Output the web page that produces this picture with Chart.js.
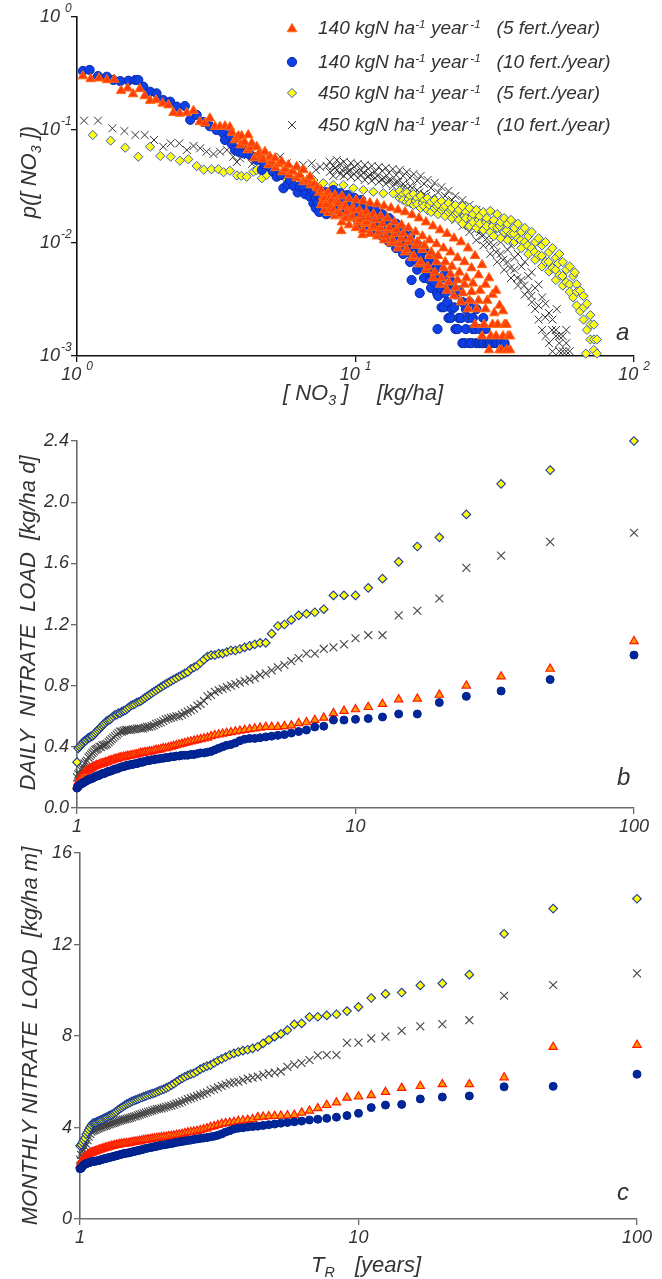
<!DOCTYPE html>
<html>
<head>
<meta charset="utf-8">
<title>Nitrate concentration pdf and nitrate load return periods</title>
<script src="https://cdn.jsdelivr.net/npm/chart.js@4.4.0/dist/chart.umd.min.js"></script>
<style>
  html, body { margin: 0; padding: 0; background: #fff; }
  #wrap { position: relative; width: 662px; height: 1279px; overflow: hidden;
          font-family: "Liberation Sans", Arial, sans-serif; font-style: italic; color: #333; }
  canvas { position: absolute; left: 0; }
  .t { position: absolute; white-space: nowrap; line-height: 20px; }
  .rot { transform: translate(-50%, -50%) rotate(-90deg); }
  .t sup { font-size: 62%; vertical-align: 0; position: relative; top: -0.55em; line-height: 0; }
  .t sub { font-size: 65%; vertical-align: 0; position: relative; top: 0.35em; line-height: 0; }
  .leg { font-size: 19px; left: 318px; }
  .ttl { font-size: 22px; }
  .lbl { font-size: 24px; }
</style>
</head>
<body>
<div id="wrap">
  <canvas id="chartA" width="662" height="420" style="top:0px"></canvas>
  <canvas id="chartB" width="662" height="420" style="top:420px"></canvas>
  <canvas id="chartC" width="662" height="439" style="top:840px"></canvas>

  <!-- legend of panel a -->
  <div class="t leg" style="top:18px">140 kgN ha<sup>-1</sup> year<sup>&thinsp;-1</sup>&nbsp;&nbsp;&nbsp;(5 fert./year)</div>
  <div class="t leg" style="top:52px">140 kgN ha<sup>-1</sup> year<sup>&thinsp;-1</sup>&nbsp;&nbsp;&nbsp;(10 fert./year)</div>
  <div class="t leg" style="top:83px">450 kgN ha<sup>-1</sup> year<sup>&thinsp;-1</sup>&nbsp;&nbsp;&nbsp;(5 fert./year)</div>
  <div class="t leg" style="top:115px">450 kgN ha<sup>-1</sup> year<sup>&thinsp;-1</sup>&nbsp;&nbsp;&nbsp;(10 fert./year)</div>

  <!-- axis titles -->
  <div class="t ttl rot" style="left:29px;top:172px">p([ NO<sub>3</sub> ])</div>
  <div class="t ttl" style="left:283px;top:383px">[ NO<sub>3</sub> ]</div>
  <div class="t ttl" style="left:377px;top:383px">[kg/ha]</div>
  <div class="t ttl rot" style="left:28px;top:623px">DAILY&nbsp; NITRATE&nbsp; LOAD&nbsp; [kg/ha d]</div>
  <div class="t ttl rot" style="left:30px;top:1036px">MONTHLY NITRATE&nbsp; LOAD&nbsp; [kg/ha m]</div>
  <div class="t ttl" style="left:311px;top:1255px">T<sub>R</sub></div>
  <div class="t ttl" style="left:355px;top:1255px">[years]</div>

  <!-- panel letters -->
  <div class="t lbl" style="left:616px;top:322px">a</div>
  <div class="t lbl" style="left:617px;top:767px">b</div>
  <div class="t lbl" style="left:617px;top:1182px">c</div>
</div>

<script>
// ---------- Panel a: probability of nitrate concentration, [NO3] (kg/ha) vs p ----------
const pdf140f5 = [
  [1.05,0.30],[1.12,0.283],[1.20,0.287],[1.28,0.277],[1.36,0.28],[1.44,0.223],[1.52,0.234],[1.59,0.208],
  [1.68,0.231],[1.75,0.20],[1.83,0.182],[1.92,0.184],[2.03,0.172],[2.13,0.166],[2.22,0.142],[2.34,0.14],
  [2.48,0.142],[2.62,0.148],[2.76,0.118],[2.88,0.115],[3.00,0.127],[3.13,0.107],[3.26,0.107],[3.40,0.108],
  [3.54,0.106],[3.60,0.095],[3.69,0.0816],[3.75,0.085],[3.80,0.0885],[3.87,0.0736],[3.90,0.0885],[4.00,0.078],
  [4.10,0.0665],[4.12,0.0903],[4.20,0.070],[4.24,0.0762],[4.34,0.0565],[4.42,0.0711],[4.50,0.062],[4.60,0.060],
  [4.65,0.055],[4.73,0.0643],[4.87,0.049],[4.93,0.058],[5.00,0.052],[5.14,0.0562],[5.16,0.0462],[5.30,0.050],
  [5.43,0.0525],[5.47,0.0425],[5.60,0.045],[5.74,0.049],[5.79,0.040],[5.95,0.043],[6.14,0.0376],[6.15,0.0474],
  [6.30,0.040],[6.50,0.0443],[6.51,0.0347],[6.70,0.036],[6.87,0.0386],[6.90,0.0326],[7.10,0.033],[7.26,0.0315],
  [7.30,0.0306],[7.40,0.028],[7.52,0.0294],[7.52,0.0217],[7.63,0.024],[7.66,0.0257],[7.74,0.025],[7.74,0.0196],
  [7.85,0.0217],[7.97,0.028],[7.97,0.0185],[8.08,0.025],[8.20,0.024],[8.20,0.0204],[8.32,0.0196],[8.44,0.0266],
  [8.44,0.0173],[8.56,0.0231],[8.69,0.0226],[8.69,0.0188],[8.81,0.018],[8.89,0.0128],[8.94,0.026],[8.94,0.0153],
  [9.07,0.0212],[9.21,0.021],[9.21,0.0166],[9.34,0.0188],[9.48,0.0246],[9.48,0.0144],[9.61,0.0166],[9.75,0.0204],
  [9.75,0.0173],[9.90,0.0196],[10.04,0.024],[10.04,0.0136],[10.19,0.0153],[10.34,0.0196],[10.34,0.016],[10.49,0.0177],
  [10.6,0.0118],[10.64,0.0235],[10.64,0.013],[10.8,0.0148],[10.95,0.0188],[10.95,0.0153],[11.11,0.0166],[11.27,0.0226],
  [11.27,0.0121],[11.43,0.0136],[11.6,0.018],[11.6,0.0141],[11.77,0.016],[11.95,0.0221],[11.95,0.0115],[12.12,0.0125],
  [12.3,0.0173],[12.3,0.0136],[12.48,0.0148],[12.66,0.0212],[12.66,0.0106],[12.84,0.0115],[13.03,0.0166],[13.03,0.013],
  [13.22,0.0136],[13.41,0.0204],[13.41,0.010],[13.6,0.0106],[13.8,0.0153],[13.8,0.0121],[14.0,0.013],[14.21,0.0196],
  [14.21,0.009],[14.42,0.0098],[14.63,0.0144],[14.63,0.011],[14.84,0.0121],[15.06,0.0188],[15.06,0.0083],[15.28,0.0087],
  [15.5,0.0136],[15.5,0.0102],[15.73,0.011],[15.96,0.0177],[15.96,0.0074],[16.19,0.0077],[16.42,0.0125],[16.42,0.0095],
  [16.66,0.0102],[16.9,0.0166],[16.9,0.0065],[17.15,0.0068],[17.4,0.0115],[17.4,0.0087],[17.65,0.0095],[17.91,0.0153],
  [17.91,0.0058],[18.17,0.0062],[18.44,0.0106],[18.44,0.0077],[18.7,0.0083],[18.98,0.0141],[18.98,0.0049],[19.25,0.0055],
  [19.54,0.0098],[19.54,0.0068],[19.8,0.0077],[20.11,0.013],[20.11,0.0043],[20.4,0.0049],[20.7,0.009],[20.7,0.006],
  [21.0,0.0068],[21.31,0.0121],[21.31,0.0038],[21.6,0.0045],[21.94,0.0083],[21.94,0.0053],[22.2,0.0062],[22.58,0.011],
  [22.58,0.0034],[22.9,0.004],[23.25,0.0074],[23.25,0.0047],[23.6,0.0055],[23.93,0.0102],[23.93,0.003],[24.3,0.0036],
  [24.63,0.0068],[24.63,0.0043],[25.0,0.0049],[25.35,0.009],[25.35,0.0026],[25.7,0.0031],[26.1,0.006],[26.1,0.0037],
  [26.4,0.0044],[26.86,0.0077],[26.86,0.0019],[27.2,0.0026],[27.65,0.0052],[27.65,0.0031],[28.0,0.0038],[28.47,0.0064],
  [28.47,0.0015],[28.9,0.0019],[29.3,0.0043],[29.3,0.0026],[29.7,0.0031],[30.16,0.0049],[30.16,0.00113],[30.6,0.0015],
  [31.05,0.0035],[31.05,0.0019],[31.5,0.0024],[31.96,0.0038],[31.96,0.0015],[32.4,0.0019],[32.89,0.0028],[32.89,0.00113],
  [33.4,0.00113],[33.86,0.0025],[33.86,0.0015],[34.3,0.0019],[34.85,0.0019],[34.85,0.00113],[35.3,0.0015],[35.87,0.0015],
  [35.87,0.00113]
];

const pdf140f10 = [
  [1.05,0.333],[1.11,0.34],[1.19,0.30],[1.28,0.296],[1.35,0.277],[1.43,0.271],[1.53,0.273],[1.62,0.277],
  [1.66,0.277],[1.73,0.242],[1.83,0.218],[1.93,0.211],[2.04,0.184],[2.16,0.178],[2.28,0.161],[2.44,0.163],
  [2.55,0.123],[2.69,0.136],[2.84,0.118],[3.00,0.108],[3.17,0.10],[3.35,0.0935],[3.40,0.0816],[3.54,0.0903],
  [3.60,0.075],[3.69,0.0665],[3.80,0.0643],[3.90,0.070],[3.96,0.0622],[4.18,0.0601],[4.30,0.058],[4.42,0.0543],
  [4.61,0.0443],[4.70,0.050],[4.93,0.0473],[5.05,0.043],[5.21,0.0386],[5.40,0.040],[5.51,0.0305],[5.70,0.033],
  [5.82,0.0361],[6.00,0.032],[6.20,0.028],[6.32,0.0315],[6.49,0.0315],[6.60,0.027],[6.87,0.0257],[6.95,0.030],
  [7.06,0.0225],[7.10,0.027],
  [7.2,0.0251],[7.2,0.0204],[7.32,0.0226],[7.41,0.0266],[7.41,0.0188],[7.53,0.025],[7.63,0.024],[7.63,0.0212],
  [7.75,0.0204],[7.86,0.0282],[7.86,0.018],[7.98,0.024],[8.09,0.026],[8.09,0.0204],[8.22,0.0212],[8.32,0.0294],
  [8.32,0.0188],[8.46,0.024],[8.57,0.0251],[8.57,0.0212],[8.71,0.0204],[8.82,0.0276],[8.82,0.0196],[8.97,0.0226],
  [9.08,0.024],[9.08,0.018],[9.24,0.0188],[9.35,0.0266],[9.35,0.0204],[9.51,0.0212],[9.62,0.0231],[9.62,0.0173],
  [9.79,0.0173],[9.9,0.0251],[9.9,0.0188],[10.08,0.0196],[10.19,0.0217],[10.19,0.016],[10.37,0.018],[10.49,0.024],
  [10.49,0.0148],[10.68,0.016],[10.8,0.0196],[10.8,0.0166],[10.99,0.0173],[11.11,0.0212],[11.11,0.0136],[11.32,0.0148],
  [11.43,0.018],[11.43,0.0153],[11.65,0.016],[11.77,0.0196],[11.77,0.0125],[12.0,0.0136],[12.12,0.0166],[12.12,0.0141],
  [12.36,0.0148],[12.47,0.018],[12.47,0.0115],[12.72,0.013],[12.84,0.0153],[12.84,0.0125],[13.1,0.0121],[13.21,0.0166],
  [13.21,0.0102],[13.49,0.0125],[13.6,0.0136],[13.6,0.011],[13.88,0.0106],[14.0,0.0148],[14.0,0.009],[14.29,0.011],
  [14.41,0.0121],[14.41,0.0098],[14.71,0.0095],[14.83,0.013],[14.83,0.008],[15.14,0.0098],[15.27,0.0106],[15.27,0.0087],
  [15.58,0.0083],[15.71,0.0115],[15.71,0.0068],[15.9,0.0047],[16.05,0.0087],[16.17,0.0095],[16.17,0.0077],[16.52,0.0071],
  [16.65,0.0098],[16.65,0.0058],[17.0,0.0036],[17.0,0.0074],[17.13,0.008],[17.13,0.0064],[17.5,0.006],[17.63,0.0087],
  [17.63,0.0049],[18.0,0.0062],[18.15,0.0068],[18.15,0.0056],[18.52,0.0047],[18.68,0.0074],[18.68,0.004],[19.06,0.0051],
  [19.23,0.0058],[19.23,0.0045],[19.62,0.0036],[19.7,0.00173],[19.79,0.0062],[19.79,0.0034],[20.2,0.004],[20.37,0.0049],
  [20.37,0.0027],[20.76,0.0027],[20.96,0.0053],[20.96,0.0036],[21.37,0.003],[21.57,0.0042],[21.57,0.00217],[21.98,0.00217],
  [22.2,0.0045],[22.2,0.0026],[22.61,0.0027],[22.85,0.0035],[22.85,0.00173],[23.27,0.00173],[23.52,0.0038],[23.52,0.00217],
  [23.95,0.00217],[24.2,0.003],[24.2,0.0013],[24.65,0.0013],[24.91,0.0026],[24.91,0.00173],[25.38,0.00217],[25.64,0.003],
  [25.64,0.0013],[26.12,0.0013],[26.39,0.00217],[26.39,0.00173],[26.9,0.00173],[27.16,0.0026],[27.16,0.0013],[27.67,0.0013],
  [27.95,0.00173],[27.95,0.0013],[28.45,0.0013],[28.77,0.00217],[28.77,0.0013],[29.3,0.00173],[29.6,0.0013],[30.1,0.0013],
  [30.47,0.0013],[31.36,0.0013],[31.96,0.0013],[32.27,0.0013],[33.2,0.0013],[34.3,0.0013]
];

const pdf450f5 = [
  [1.14,0.0903],[1.32,0.0804],[1.49,0.0697],[1.66,0.058],[1.83,0.0711],[1.99,0.0589],[2.17,0.058],[2.34,0.0535],
  [2.51,0.0551],[2.69,0.048],[2.85,0.0446],[3.04,0.0449],[3.22,0.0449],[3.36,0.0423],[3.54,0.0436],[3.75,0.0396],
  [3.89,0.0392],[4.07,0.0386],[4.30,0.0428],[4.42,0.0443],[4.61,0.0374],[4.80,0.040],[5.07,0.0414],[5.28,0.040],
  [5.58,0.040],[5.66,0.0366],[6.15,0.0374],[6.49,0.0342],[7.06,0.0361],[7.66,0.0338],[8.32,0.0326],[9.04,0.0326],
  [9.82,0.0305],[10.67,0.0294],[11.59,0.0284],[12.59,0.0275],[13.67,0.0275],
  [14.41,0.0289],[14.41,0.025],[14.66,0.026],[14.83,0.0271],[14.83,0.024],[15.27,0.028],[15.27,0.0231],[15.5,0.0245],
  [15.71,0.0261],[15.71,0.0226],[16.17,0.0271],[16.17,0.0217],[16.45,0.0235],[16.65,0.025],[16.65,0.0221],[17.13,0.0261],
  [17.13,0.0204],[17.4,0.0226],[17.63,0.024],[17.63,0.0212],[18.15,0.025],[18.15,0.0196],[18.4,0.0217],[18.68,0.0231],
  [18.68,0.0188],[19.23,0.024],[19.23,0.0204],[19.6,0.0212],[19.79,0.0221],[19.79,0.018],[20.37,0.0235],[20.37,0.0196],
  [20.7,0.0204],[20.96,0.0212],[20.96,0.0173],[21.57,0.0226],[21.57,0.0188],[22.0,0.0196],[22.2,0.0204],[22.2,0.0166],
  [22.85,0.0217],[22.85,0.018],[23.2,0.0185],[23.52,0.0196],[23.52,0.016],[24.2,0.0212],[24.2,0.0148],[24.6,0.0173],
  [24.91,0.0188],[24.91,0.0166],[25.64,0.0204],[25.64,0.0141],[26.1,0.0166],[26.39,0.018],[26.39,0.0153],[27.16,0.0196],
  [27.16,0.0136],[27.7,0.016],[27.95,0.0173],[27.95,0.0148],[28.77,0.0188],[28.77,0.013],[29.4,0.0153],[29.6,0.0166],
  [29.6,0.0141],[30.47,0.0192],[30.47,0.0125],[31.1,0.0141],[31.36,0.016],[31.36,0.0115],[32.27,0.018],[32.27,0.0136],
  [32.95,0.0141],[33.2,0.0153],[33.2,0.011],[34.17,0.0166],[34.17,0.0125],[34.9,0.013],[35.16,0.0148],[35.16,0.0106],
  [36.18,0.016],[36.18,0.0121],[37.0,0.0121],[37.22,0.0136],[37.22,0.0102],[38.3,0.0148],[38.3,0.011],[39.2,0.0106],
  [39.41,0.0125],[39.41,0.009],[40.55,0.0136],[40.55,0.0102],[41.5,0.0095],[41.72,0.0115],[41.72,0.008],[42.93,0.0125],
  [42.93,0.009],[44.0,0.0083],[44.17,0.0102],[44.17,0.0071],[45.45,0.011],[45.45,0.0078],[46.6,0.0077],[46.77,0.0095],
  [46.77,0.0062],[48.12,0.0102],[48.12,0.0068],[49.4,0.0068],[49.52,0.0083],[49.52,0.0056],[50.95,0.009],[50.95,0.006],
  [52.3,0.0058],[52.42,0.0074],[52.42,0.0047],[53.4,0.0066],[53.94,0.008],[53.94,0.0052],[55.4,0.0051],[55.5,0.0068],
  [55.5,0.0042],[57.11,0.0058],[57.11,0.0045],[58.7,0.0043],[58.76,0.0062],[58.76,0.0037],[60.47,0.0051],[60.47,0.0033],
  [61.3,0.0055],[62.22,0.0043],[62.22,0.0028],[62.3,0.0037],[64.02,0.0038],[64.02,0.0025],[65.87,0.0034],[65.87,0.0021],
  [66.0,0.0027],[67.2,0.00105],[67.77,0.0029],[67.77,0.0017],[69.73,0.0023],[69.73,0.0014],[69.9,0.0019],[71.75,0.0019],
  [71.75,0.00113],[71.8,0.0014],[73.6,0.0014],[73.6,0.00105]
];

const pdf450f10 = [
  [1.06,0.121],[1.19,0.121],[1.34,0.1035],[1.48,0.098],[1.62,0.0903],[1.75,0.0903],[1.89,0.0816],[2.04,0.0711],
  [2.17,0.0762],[2.33,0.0762],[2.48,0.0665],[2.62,0.0722],[2.77,0.0689],[2.92,0.0643],[3.09,0.0613],[3.26,0.0643],
  [3.45,0.0665],[3.64,0.058],[3.75,0.0521],[3.85,0.0562],[4.12,0.0601],[4.25,0.0502],[4.36,0.0551],[4.67,0.0562],
  [4.85,0.0462],[5.00,0.0507],[5.36,0.058],[5.66,0.0507],[5.82,0.0443],[5.98,0.0473],[6.32,0.0425],[6.49,0.049],
  [6.96,0.0507],[7.2,0.0443],[7.46,0.0473],[7.88,0.048],
  [8.09,0.0523],[8.09,0.0426],[8.32,0.0481],[8.32,0.0392],[8.45,0.0462],[8.57,0.0542],[8.57,0.0442],[8.82,0.05],
  [8.82,0.0408],[8.96,0.0442],[9.08,0.0523],[9.08,0.0392],[9.35,0.0462],[9.35,0.0426],[9.49,0.0434],[9.62,0.0512],
  [9.62,0.0385],[9.9,0.0472],[9.9,0.0408],[10.05,0.0426],[10.19,0.05],[10.19,0.0376],[10.49,0.0442],[10.49,0.040],
  [10.66,0.0417],[10.8,0.049],[10.8,0.0361],[11.11,0.0452],[11.11,0.0392],[11.28,0.040],[11.43,0.0481],[11.43,0.0355],
  [11.77,0.0426],[11.77,0.0376],[11.97,0.0392],[12.12,0.0472],[12.12,0.0347],[12.47,0.0434],[12.47,0.0368],[12.69,0.0376],
  [12.84,0.0462],[12.84,0.0333],[13.21,0.0417],[13.21,0.0361],[13.43,0.0361],[13.6,0.0452],[13.6,0.0319],[14.0,0.040],
  [14.0,0.0347],[14.24,0.0347],[14.41,0.0442],[14.41,0.0306],[14.83,0.0392],[14.83,0.0333],[15.09,0.0319],[15.27,0.0426],
  [15.27,0.0294],[15.71,0.0376],[15.71,0.0319],[15.99,0.0306],[16.17,0.0408],[16.17,0.0271],[16.65,0.0355],[16.65,0.0294],
  [16.94,0.028],[17.13,0.0392],[17.13,0.025],[17.63,0.0333],[17.63,0.0271],[17.95,0.0261],[18.15,0.0361],[18.15,0.0231],
  [18.68,0.0306],[18.68,0.025],[19.03,0.024],[19.23,0.034],[19.23,0.0212],[19.79,0.028],[19.79,0.0231],[20.15,0.0221],
  [20.37,0.0312],[20.37,0.0196],[20.96,0.0261],[20.96,0.0212],[21.35,0.0204],[21.57,0.0289],[21.57,0.018],[22.2,0.024],
  [22.2,0.0196],[22.6,0.0188],[22.85,0.0261],[22.85,0.016],[23.52,0.0217],[23.52,0.0177],[24.0,0.0166],[24.2,0.024],
  [24.2,0.0141],[24.91,0.0196],[24.91,0.016],[25.4,0.0148],[25.64,0.0217],[25.64,0.0125],[26.39,0.0177],[26.39,0.0141],
  [26.9,0.013],[27.16,0.0196],[27.16,0.0106],[27.95,0.0153],[27.95,0.0125],[28.5,0.0115],[28.77,0.0173],[28.77,0.0095],
  [29.6,0.0136],[29.6,0.011],[30.2,0.0098],[30.47,0.0153],[30.47,0.008],[31.36,0.0118],[31.36,0.0095],[32.0,0.0083],
  [32.27,0.013],[32.27,0.0068],[33.2,0.0102],[33.2,0.008],[33.9,0.0071],[34.17,0.011],[34.17,0.0058],[35.16,0.0087],
  [35.16,0.0068],[36.0,0.006],[36.18,0.0095],[36.18,0.0049],[37.22,0.0074],[37.22,0.0058],[38.1,0.0049],[38.3,0.008],
  [38.3,0.0042],[39.41,0.0062],[39.41,0.0047],[40.3,0.0042],[40.55,0.0068],[40.55,0.0035],[41.72,0.0051],[41.72,0.0038],
  [42.8,0.0034],[42.93,0.0055],[42.93,0.003],[44.17,0.004],[44.17,0.0026],[45.4,0.0028],[45.45,0.0043],[45.45,0.0021],
  [46.77,0.0033],[46.77,0.0017],[48.0,0.0022],[48.12,0.0029],[48.12,0.0015],[49.52,0.0024],[49.52,0.0013],[50.8,0.0017],
  [50.95,0.0021],[50.95,0.0011],[52.42,0.0017],[52.42,0.0015],[52.8,0.0026],[53.9,0.0015],[53.94,0.0013],[53.94,0.0011],
  [55.5,0.0015],[55.5,0.0011],[57.1,0.0011],[57.11,0.0013],[57.11,0.0017],[58.76,0.0011]
];

// ---------- Panels b and c: return period T_R (years) ----------
const returnPeriod = [
  1.000,1.010,1.020,1.031,1.042,1.053,1.064,1.075,1.087,1.099,
  1.111,1.124,1.136,1.149,1.163,1.176,1.190,1.205,1.220,1.235,
  1.250,1.266,1.282,1.299,1.316,1.333,1.351,1.370,1.389,1.408,
  1.429,1.449,1.471,1.493,1.515,1.538,1.563,1.587,1.613,1.639,
  1.667,1.695,1.724,1.754,1.786,1.818,1.852,1.887,1.923,1.961,
  2.000,2.041,2.083,2.128,2.174,2.222,2.273,2.326,2.381,2.439,
  2.500,2.564,2.632,2.703,2.778,2.857,2.941,3.030,3.125,3.226,
  3.333,3.448,3.571,3.704,3.846,4.000,4.167,4.348,4.545,4.762,
  5.000,5.263,5.556,5.882,6.250,6.667,7.143,7.692,8.333,9.091,
  10.00,11.11,12.50,14.29,16.67,20.00,25.00,33.33,50.00,100.0
];

// daily nitrate load (kg/ha d)
const daily140f5 = [
  0.14,0.17,0.19,0.20,0.21,0.22,0.23,0.24,0.245,0.25,
  0.255,0.26,0.265,0.27,0.275,0.28,0.28,0.285,0.29,0.29,
  0.295,0.30,0.30,0.305,0.31,0.31,0.315,0.32,0.32,0.325,
  0.33,0.33,0.335,0.335,0.34,0.34,0.345,0.345,0.35,0.35,
  0.355,0.36,0.36,0.365,0.365,0.37,0.37,0.375,0.38,0.38,
  0.385,0.39,0.39,0.395,0.40,0.405,0.41,0.415,0.42,0.425,
  0.43,0.435,0.44,0.445,0.45,0.455,0.46,0.47,0.475,0.48,
  0.485,0.49,0.495,0.50,0.505,0.51,0.515,0.52,0.525,0.53,
  0.53,0.53,0.535,0.54,0.555,0.56,0.575,0.59,0.62,0.635,
  0.645,0.66,0.68,0.71,0.715,0.74,0.80,0.86,0.91,1.09
];
const daily140f10 = [
  0.13,0.14,0.15,0.155,0.16,0.165,0.17,0.175,0.18,0.185,
  0.19,0.19,0.195,0.20,0.205,0.21,0.21,0.215,0.22,0.225,
  0.225,0.23,0.235,0.24,0.24,0.245,0.25,0.255,0.255,0.26,
  0.265,0.27,0.27,0.275,0.28,0.28,0.285,0.285,0.29,0.29,
  0.295,0.30,0.30,0.305,0.31,0.31,0.315,0.315,0.32,0.32,
  0.325,0.325,0.33,0.33,0.335,0.335,0.34,0.34,0.345,0.345,
  0.345,0.35,0.35,0.355,0.36,0.36,0.365,0.37,0.38,0.39,
  0.40,0.41,0.415,0.425,0.44,0.45,0.455,0.455,0.46,0.465,
  0.47,0.475,0.48,0.49,0.50,0.51,0.53,0.535,0.575,0.575,
  0.58,0.585,0.595,0.615,0.615,0.69,0.73,0.765,0.84,1.00
];
const daily450f5 = [
  0.30,0.39,0.40,0.41,0.42,0.43,0.44,0.44,0.45,0.46,
  0.46,0.47,0.47,0.48,0.49,0.50,0.51,0.52,0.53,0.54,
  0.55,0.56,0.57,0.575,0.58,0.59,0.60,0.61,0.61,0.62,
  0.62,0.63,0.635,0.64,0.65,0.66,0.67,0.675,0.68,0.69,
  0.695,0.70,0.71,0.72,0.73,0.74,0.75,0.76,0.77,0.78,
  0.79,0.80,0.81,0.82,0.83,0.84,0.85,0.86,0.87,0.88,
  0.89,0.91,0.92,0.93,0.95,0.97,0.99,1.00,1.00,1.01,
  1.01,1.02,1.03,1.03,1.04,1.05,1.06,1.07,1.08,1.08,
  1.14,1.19,1.20,1.23,1.26,1.27,1.28,1.30,1.39,1.39,
  1.39,1.44,1.50,1.61,1.71,1.77,1.92,2.12,2.21,2.40
];
const daily450f10 = [
  0.20,0.22,0.23,0.25,0.26,0.27,0.29,0.30,0.31,0.33,
  0.34,0.35,0.36,0.37,0.38,0.385,0.39,0.40,0.40,0.41,
  0.41,0.415,0.42,0.43,0.44,0.45,0.46,0.47,0.48,0.49,
  0.50,0.50,0.505,0.51,0.51,0.51,0.51,0.515,0.515,0.52,
  0.52,0.52,0.52,0.525,0.53,0.53,0.535,0.54,0.55,0.555,
  0.56,0.57,0.58,0.585,0.59,0.595,0.60,0.60,0.61,0.62,
  0.63,0.64,0.65,0.67,0.68,0.70,0.73,0.74,0.76,0.77,
  0.78,0.79,0.80,0.81,0.82,0.83,0.84,0.85,0.87,0.88,
  0.90,0.92,0.935,0.96,0.98,1.01,1.01,1.04,1.05,1.07,
  1.11,1.13,1.13,1.26,1.29,1.37,1.57,1.65,1.74,1.80
];

// monthly nitrate load (kg/ha m)
const monthly140f5 = [
  2.35,2.50,2.58,2.65,2.70,2.74,2.79,2.83,2.87,2.90,
  2.92,2.94,2.96,2.98,3.01,3.03,3.05,3.07,3.09,3.11,
  3.13,3.15,3.17,3.19,3.20,3.22,3.24,3.25,3.27,3.28,
  3.29,3.30,3.31,3.31,3.33,3.35,3.37,3.38,3.39,3.41,
  3.43,3.45,3.46,3.48,3.49,3.51,3.52,3.54,3.55,3.57,
  3.58,3.60,3.62,3.63,3.65,3.67,3.69,3.72,3.75,3.78,
  3.80,3.82,3.85,3.88,3.92,3.96,4.02,4.06,4.11,4.16,
  4.19,4.21,4.24,4.28,4.31,4.33,4.36,4.45,4.47,4.49,
  4.50,4.51,4.53,4.55,4.65,4.73,4.84,4.98,5.09,5.30,
  5.35,5.41,5.55,5.73,5.81,5.89,5.89,6.19,7.52,7.61
];
const monthly140f10 = [
  2.20,2.22,2.30,2.36,2.40,2.42,2.44,2.46,2.48,2.50,
  2.51,2.52,2.53,2.54,2.55,2.57,2.59,2.61,2.63,2.65,
  2.66,2.68,2.70,2.71,2.73,2.75,2.77,2.79,2.81,2.83,
  2.85,2.86,2.88,2.89,2.91,2.93,2.95,2.97,2.99,3.01,
  3.03,3.06,3.08,3.10,3.12,3.14,3.16,3.18,3.20,3.23,
  3.24,3.26,3.28,3.30,3.32,3.35,3.37,3.39,3.41,3.43,
  3.45,3.48,3.50,3.52,3.54,3.56,3.59,3.62,3.66,3.72,
  3.80,3.86,3.93,3.97,3.99,4.02,4.04,4.06,4.09,4.12,
  4.15,4.19,4.22,4.25,4.28,4.33,4.36,4.40,4.45,4.52,
  4.62,4.87,4.98,5.01,5.25,5.33,5.38,5.78,5.80,6.33
];
const monthly450f5 = [
  3.20,3.25,3.35,3.45,3.55,3.70,3.80,3.90,4.00,4.10,
  4.18,4.20,4.22,4.25,4.28,4.30,4.33,4.36,4.40,4.43,
  4.46,4.50,4.53,4.56,4.60,4.65,4.70,4.77,4.82,4.87,
  4.92,4.97,5.02,5.06,5.10,5.14,5.18,5.21,5.24,5.28,
  5.31,5.35,5.38,5.42,5.45,5.48,5.51,5.55,5.60,5.64,
  5.68,5.73,5.78,5.85,5.92,6.00,6.08,6.15,6.22,6.28,
  6.33,6.37,6.45,6.55,6.62,6.68,6.73,6.82,6.92,7.00,
  7.08,7.17,7.24,7.30,7.36,7.40,7.46,7.53,7.68,7.83,
  7.97,8.09,8.26,8.51,8.55,8.83,8.84,8.90,8.95,9.09,
  9.27,9.66,9.84,9.90,10.21,10.30,10.68,12.47,13.57,14.0
];
const monthly450f10 = [
  2.60,2.80,2.95,3.05,3.16,3.28,3.45,3.60,3.72,3.82,
  3.86,3.88,3.91,3.94,3.96,3.99,4.01,4.04,4.06,4.08,
  4.10,4.13,4.15,4.18,4.20,4.22,4.25,4.28,4.30,4.32,
  4.34,4.36,4.38,4.40,4.42,4.45,4.48,4.50,4.53,4.56,
  4.59,4.62,4.65,4.68,4.71,4.74,4.77,4.80,4.82,4.84,
  4.87,4.90,4.93,4.96,5.00,5.04,5.08,5.13,5.18,5.24,
  5.28,5.33,5.38,5.43,5.48,5.53,5.62,5.68,5.75,5.82,
  5.88,5.94,5.97,6.00,6.07,6.14,6.18,6.22,6.30,6.37,
  6.40,6.45,6.65,6.75,6.82,6.95,7.15,7.17,7.17,7.70,
  7.71,7.90,7.97,8.23,8.42,8.52,8.69,9.76,10.23,10.74
];

// tick values
const concTicks = [1, 10, 100];
const probTicks = [0.001, 0.01, 0.1, 1];
const periodTicks = [1, 10, 100];
const dailyTicks = [0, 0.4, 0.8, 1.2, 1.6, 2.0, 2.4];
const monthlyTicks = [0, 4, 8, 12, 16];

// ---------- styling ----------
const FONT = '"Liberation Sans", Arial, sans-serif';
const styleA = {
  tri:  { pointStyle: 'triangle', radius: 5.5, backgroundColor: '#ff3d0a', borderColor: '#ff6a10', borderWidth: 1 },
  dot:  { pointStyle: 'circle',   radius: 4.6, backgroundColor: '#0f3fe6', borderColor: '#0a2ba8', borderWidth: 1 },
  dia:  { pointStyle: 'rectRot',  radius: 4.6, backgroundColor: '#ffff10', borderColor: '#3a5cc0', borderWidth: 1 },
  cross:{ pointStyle: 'crossRot', radius: 5.6, backgroundColor: '#333', borderColor: '#333', borderWidth: 1 }
};
const styleBC = {
  tri:  { pointStyle: 'triangle', radius: 4.8, backgroundColor: '#ff9800', borderColor: '#ff1a00', borderWidth: 1.2 },
  dot:  { pointStyle: 'circle',   radius: 4.0, backgroundColor: '#00279a', borderColor: '#00208a', borderWidth: 1 },
  dia:  { pointStyle: 'rectRot',  radius: 4.3, backgroundColor: '#ffff00', borderColor: '#1a3a9e', borderWidth: 1.1 },
  cross:{ pointStyle: 'crossRot', radius: 5.6, backgroundColor: '#444', borderColor: '#444', borderWidth: 1.1 }
};

function pairsDataset(pairs, st, order) {
  return {
    data: pairs.map(([x, y]) => ({ x, y })),
    showLine: false, clip: false, order,
    pointStyle: st.pointStyle, pointRadius: st.radius, pointHoverRadius: st.radius,
    pointBackgroundColor: st.backgroundColor, pointBorderColor: st.borderColor,
    pointBorderWidth: st.borderWidth
  };
}
function periodDataset(values, st, order) {
  return pairsDataset(returnPeriod.map((t, i) => [t, values[i]]), st, order);
}

function axis(opts) {
  return Object.assign({
    grid: { display: true, drawOnChartArea: false, drawTicks: true, tickLength: 6,
            color: opts.color, lineWidth: 1.3 },
    border: { display: true, color: opts.color, width: 1.6 }
  }, opts.extra);
}

// ---------- panel a ----------
const powerLabels = {
  id: 'powerLabels',
  afterDraw(chart) {
    const { ctx, scales: { x, y } } = chart;
    const big = 'italic 18px ' + FONT, small = 'italic 12px ' + FONT;
    ctx.save();
    ctx.fillStyle = '#333';
    ctx.textBaseline = 'middle';
    y.ticks.forEach(t => {
      const py = y.getPixelForValue(t.value);
      const e = String(Math.round(Math.log10(t.value)));
      ctx.font = big; ctx.textAlign = 'right';
      ctx.fillText('10', x.left - 17, py);
      ctx.font = small; ctx.textAlign = 'left';
      ctx.fillText(e, x.left - (e[0] === '-' ? 16 : 12), py - 8);
    });
    x.ticks.forEach(t => {
      const px = x.getPixelForValue(t.value);
      const e = String(Math.round(Math.log10(t.value)));
      ctx.font = big; const w1 = ctx.measureText('10').width;
      ctx.font = small; const w2 = ctx.measureText(e).width;
      const gap = 5, start = px - (w1 + gap + w2) / 2;
      ctx.textAlign = 'left';
      ctx.font = big; ctx.fillText('10', start, y.bottom + 19);
      ctx.font = small; ctx.fillText(e, start + w1 + gap, y.bottom + 11);
    });
    // legend markers
    const marks = [styleA.tri, styleA.dot, styleA.dia, styleA.cross];
    const rows = [29, 62, 93, 125];
    marks.forEach((m, i) => {
      ctx.fillStyle = m.backgroundColor; ctx.strokeStyle = m.borderColor; ctx.lineWidth = m.borderWidth;
      Chart.helpers.drawPoint(ctx, { pointStyle: m.pointStyle, radius: m.radius, rotation: 0, borderWidth: m.borderWidth }, 292, rows[i]);
    });
    ctx.restore();
  }
};

new Chart(document.getElementById('chartA'), {
  type: 'scatter',
  data: { datasets: [
    pairsDataset(pdf140f5, styleA.tri, 0),
    pairsDataset(pdf140f10, styleA.dot, 1),
    pairsDataset(pdf450f5, styleA.dia, 2),
    pairsDataset(pdf450f10, styleA.cross, 3)
  ]},
  options: {
    responsive: false, animation: false, events: [],
    layout: { padding: { top: 17, right: 28, left: 0, bottom: 0 }, autoPadding: false },
    plugins: { legend: { display: false }, tooltip: { enabled: false } },
    scales: {
      x: axis({ color: '#111', extra: {
        type: 'logarithmic', min: 1, max: 100,
        afterBuildTicks: s => { s.ticks = concTicks.map(v => ({ value: v })); },
        afterFit: s => { s.height = 420 - 356; },
        ticks: { display: false } } }),
      y: axis({ color: '#111', extra: {
        type: 'logarithmic', min: 0.001, max: 1,
        afterBuildTicks: s => { s.ticks = probTicks.map(v => ({ value: v })); },
        afterFit: s => { s.width = 77; },
        ticks: { display: false } } })
    }
  },
  plugins: [powerLabels]
});

// ---------- panels b and c ----------
function loadChart(id, h, top, left, yMax, yTicks, yFmt, series) {
  const tickFont = { family: FONT, style: 'italic', size: 18 };
  return new Chart(document.getElementById(id), {
    type: 'scatter',
    data: { datasets: [
      periodDataset(series[1], styleBC.dot, 0),
      periodDataset(series[0], styleBC.tri, 1),
      periodDataset(series[2], styleBC.dia, 2),
      periodDataset(series[3], styleBC.cross, 3)
    ]},
    options: {
      responsive: false, animation: false, events: [],
      layout: { padding: { top: top, right: 662 - (left + 557), left: 0, bottom: 0 }, autoPadding: false },
      plugins: { legend: { display: false }, tooltip: { enabled: false } },
      scales: {
        x: axis({ color: '#6a6a6a', extra: {
          type: 'logarithmic', min: 1, max: 100,
          afterBuildTicks: s => { s.ticks = periodTicks.map(v => ({ value: v })); },
          afterFit: s => { s.height = h - top - (yMax.px); },
          ticks: { display: true, color: '#333', font: tickFont, padding: 2, maxRotation: 0,
                   callback: v => String(v) } } }),
        y: axis({ color: '#6a6a6a', extra: {
          type: 'linear', min: 0, max: yMax.v,
          afterBuildTicks: s => { s.ticks = yTicks.map(v => ({ value: v })); },
          afterFit: s => { s.width = left; },
          ticks: { display: true, color: '#333', font: tickFont, padding: 2,
                   callback: yFmt } } })
      }
    }
  });
}

loadChart('chartB', 420, 21, 77, { v: 2.4, px: 367 }, dailyTicks, v => v.toFixed(1),
  [daily140f5, daily140f10, daily450f5, daily450f10]);
loadChart('chartC', 439, 13, 80, { v: 16, px: 366 }, monthlyTicks, v => String(v),
  [monthly140f5, monthly140f10, monthly450f5, monthly450f10]);
</script>
</body>
</html>
